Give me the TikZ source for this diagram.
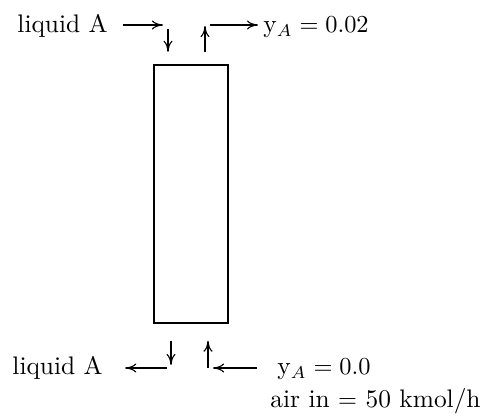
\documentclass[tikz,border=0pt]{standalone}
\usetikzlibrary{arrows.meta, positioning}

\begin{document}
\begin{tikzpicture}[
    x=0.0144cm, y=-0.0144cm,
    >={To[length=1.6mm, width=1.3mm]},
    every node/.style={font=\fontsize{10.4pt}{12.5pt}\selectfont},
    flow/.style={->, line width=0.45pt},
    stream/.style={inner sep=0pt, anchor=base west},
    column/.style={draw, line width=0.6pt, minimum width=1.066cm,
                   minimum height=3.715cm, inner sep=0pt},
  ]
  \useasboundingbox (0,0) rectangle (485,418);
  % absorber column
  \node[column] (col) at (191,194) {};

  % top: liquid in, gas out
  \node[stream] (liqin) at (17,33) {liquid A};
  \node[stream] (yout) at (263,33) {y$_A = 0.02$};
  \coordinate (lin) at (163,25);
  \coordinate (ldown) at (168,29);
  \coordinate (gup) at (205,26);
  \coordinate (gout) at (210,25);
  \draw[flow, shorten <=6pt] (liqin.east |- lin) -- (lin);
  \draw[flow, shorten >=0.18cm] (ldown) -- (ldown |- col.north);
  \draw[flow, shorten <=0.18cm] (gup |- col.north) -- (gup);
  \draw[flow, shorten >=2pt] (gout) -- (yout.west |- gout);

  % bottom: liquid out, gas in
  \node[stream] (liqout) at (12,375) {liquid A};
  \node[stream] (yin) at (277,375) {y$_A = 0.0$};
  \node[stream] (airin) at (270,408) {air in $=$ 50 kmol/h};
  \coordinate (lbot) at (171,365);
  \coordinate (lleft) at (167,368);
  \coordinate (gbot) at (208,368);
  \coordinate (gin) at (213,368);
  \draw[flow, shorten <=0.245cm] (lbot |- col.south) -- (lbot);
  \draw[flow, shorten >=9pt] (lleft) -- (liqout.east |- lleft);
  \draw[flow, shorten >=0.245cm] (gbot) -- (gbot |- col.south);
  \draw[flow, shorten <=8pt] (yin.west |- gin) -- (gin);
\end{tikzpicture}
\end{document}
